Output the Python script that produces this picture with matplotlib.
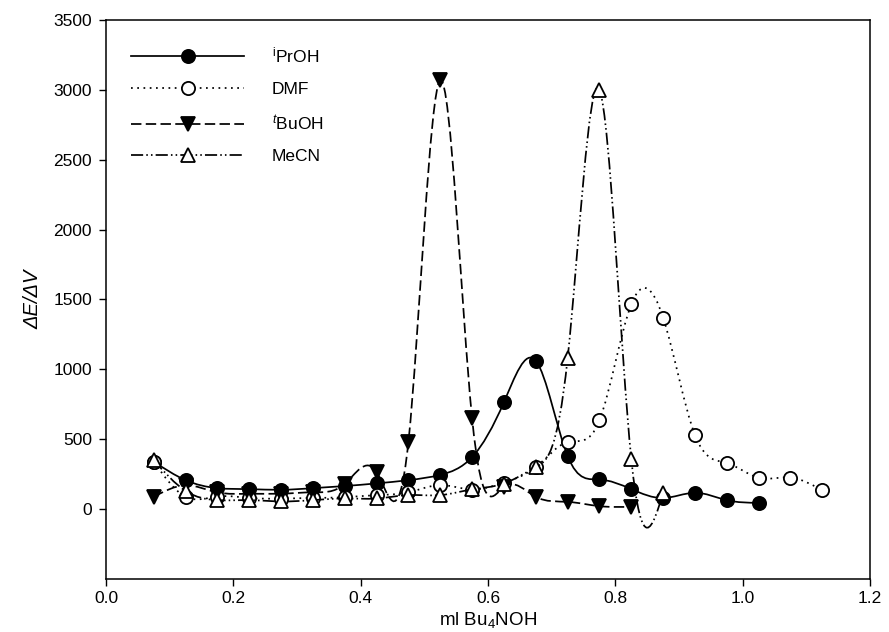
import numpy as np
import matplotlib
matplotlib.use("Agg")
import matplotlib.pyplot as plt
from matplotlib.path import Path
from matplotlib.patches import PathPatch
from matplotlib.lines import Line2D

plt.rcParams["font.family"] = ["Liberation Sans", "DejaVu Sans"]
plt.rcParams["mathtext.fontset"] = "custom"
plt.rcParams["mathtext.rm"] = "Liberation Sans"
plt.rcParams["mathtext.it"] = "Liberation Sans:italic"

# values (ml Bu4NOH vs dE/dV)
ipr_x = [0.075, 0.125, 0.175, 0.225, 0.275, 0.325, 0.375, 0.425, 0.475, 0.525,
         0.575, 0.625, 0.675, 0.725, 0.775, 0.825, 0.875, 0.925, 0.975, 1.025]
ipr_y = [340, 207, 150, 143, 138, 150, 165, 184, 207, 245,
         372, 765, 1062, 380, 212, 143, 79, 117, 64, 45]

dmf_x = [0.075, 0.125, 0.175, 0.225, 0.275, 0.325, 0.375, 0.425, 0.475, 0.525,
         0.575, 0.625, 0.675, 0.725, 0.775, 0.825, 0.875, 0.925, 0.975, 1.025,
         1.075, 1.125]
dmf_y = [340, 88, 90, 80, 75, 80, 85, 100, 120, 172,
         140, 190, 300, 480, 635, 1465, 1370, 530, 330, 225,
         225, 135]

tbu_x = [0.075, 0.125, 0.175, 0.225, 0.275, 0.325, 0.375, 0.425, 0.475, 0.525,
         0.575, 0.625, 0.675, 0.725, 0.775, 0.825]
tbu_y = [88, 170, 120, 110, 110, 120, 180, 265, 482, 3070,
         650, 160, 88, 52, 21, 17]

mecn_x = [0.075, 0.125, 0.175, 0.225, 0.275, 0.325, 0.375, 0.425, 0.475, 0.525,
          0.575, 0.625, 0.675, 0.725, 0.775, 0.825, 0.875]
mecn_y = [350, 130, 64, 64, 55, 64, 76, 76, 100, 100,
          141, 183, 300, 1078, 3000, 360, 115]

LABELS = ["$^{\\mathrm{i}}$PrOH", "DMF", "$^{t}$BuOH", "MeCN"]

LW = 1.25
STYLES = [
    dict(ls="-", marker="o", mfc="black", ms=9.5),
    dict(ls=(0, (1, 2.6)), marker="o", mfc="white", ms=9.5),
    dict(ls=(0, (6, 2.5)), marker="v", mfc="black", ms=10.5),
    dict(ls=(0, (7, 1.8, 0.9, 1.8, 0.9, 1.8)), marker="^", mfc="white", ms=10.5),
]


def spline_path(x, y):
    """Natural cubic spline through the points, as a Bezier path."""
    x = np.asarray(x, float)
    y = np.asarray(y, float)
    n = len(x)
    h = np.diff(x)
    A = np.zeros((n, n))
    b = np.zeros(n)
    A[0, 0] = A[-1, -1] = 1.0
    for i in range(1, n - 1):
        A[i, i - 1] = h[i - 1]
        A[i, i] = 2 * (h[i - 1] + h[i])
        A[i, i + 1] = h[i]
        b[i] = 6 * ((y[i + 1] - y[i]) / h[i] - (y[i] - y[i - 1]) / h[i - 1])
    M = np.linalg.solve(A, b)
    d = (y[1:] - y[:-1]) / h - h * (2 * M[:-1] + M[1:]) / 6
    d_end = (y[-1] - y[-2]) / h[-1] + h[-1] * (M[-2] + 2 * M[-1]) / 6
    s = np.append(d, d_end)
    verts = [(x[0], y[0])]
    codes = [Path.MOVETO]
    for i in range(n - 1):
        verts += [(x[i] + h[i] / 3, y[i] + h[i] / 3 * s[i]),
                  (x[i + 1] - h[i] / 3, y[i + 1] - h[i] / 3 * s[i + 1]),
                  (x[i + 1], y[i + 1])]
        codes += [Path.CURVE4] * 3
    return Path(verts, codes)


fig = plt.figure(figsize=(8.89, 6.32), dpi=100)
ax = fig.add_axes([0.1192, 0.0839, 0.8595, 0.8845])

series = [(ipr_x, ipr_y), (dmf_x, dmf_y), (tbu_x, tbu_y), (mecn_x, mecn_y)]
handles = []
for k, ((xs, ys), st) in enumerate(zip(series, STYLES)):
    z = 2 + 2 * k
    ax.add_patch(PathPatch(spline_path(xs, ys), fill=False, edgecolor="black",
                           lw=LW, linestyle=st["ls"], zorder=z))
    ax.plot(xs, ys, ls="none", marker=st["marker"], ms=st["ms"],
            mfc=st["mfc"], mec="black", mew=1.3, zorder=z + 1)
    handles.append(Line2D([], [], color="black", lw=LW, linestyle=st["ls"],
                          marker=st["marker"], ms=st["ms"], mfc=st["mfc"],
                          mec="black", mew=1.3))

ax.set_xlim(0, 1.2)
ax.set_ylim(-500, 3500)
ax.set_xticks(np.arange(0, 1.21, 0.2))
ax.set_xticklabels([f"{v:.1f}" for v in np.arange(0, 1.21, 0.2)])
ax.set_yticks(np.arange(0, 3501, 500))
ax.tick_params(direction="out", length=5, width=1, labelsize=12.5,
               top=False, right=False)
ax.tick_params(axis="y", pad=5)
for sp in ax.spines.values():
    sp.set_linewidth(1.1)

ax.set_xlabel("ml Bu$_4$NOH", fontsize=13.5, labelpad=3)
ax.set_ylabel("ΔE/ΔV", fontsize=14.5, fontstyle="italic", labelpad=8)

ax.legend(handles, LABELS, loc="upper left", bbox_to_anchor=(0.033, 0.955),
          frameon=False, fontsize=12.5, handlelength=6.5, handletextpad=1.6,
          labelspacing=0.95, borderpad=0, borderaxespad=0, numpoints=1)

fig.savefig("out.png", dpi=100)
